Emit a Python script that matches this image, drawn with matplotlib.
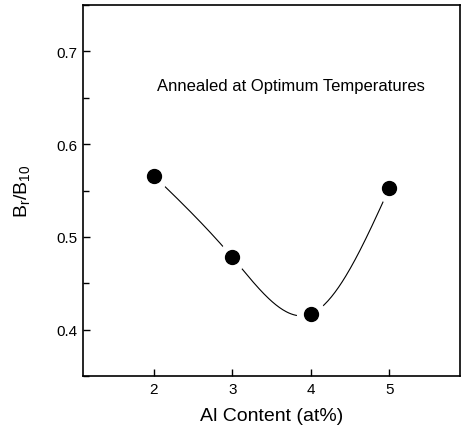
import numpy as np
import matplotlib
matplotlib.use("Agg")
import matplotlib.pyplot as plt
from matplotlib.ticker import MultipleLocator

plt.rcParams['font.family'] = ['Liberation Sans', 'DejaVu Sans']

# data
al_content = [2, 3, 4, 5]
br_b10 = [0.566, 0.478, 0.417, 0.553]
note = "Annealed at Optimum Temperatures"


def natural_spline(x, y, n=200):
    # smooth curve through the points (like the Origin spline connector)
    x = np.asarray(x, float)
    y = np.asarray(y, float)
    h = np.diff(x)
    m = len(x)
    A = np.zeros((m, m))
    b = np.zeros(m)
    A[0, 0] = A[-1, -1] = 1
    for i in range(1, m - 1):
        A[i, i - 1] = h[i - 1]
        A[i, i] = 2 * (h[i - 1] + h[i])
        A[i, i + 1] = h[i]
        b[i] = 6 * ((y[i + 1] - y[i]) / h[i] - (y[i] - y[i - 1]) / h[i - 1])
    M = np.linalg.solve(A, b)
    xs = np.linspace(x[0], x[-1], n)
    idx = np.clip(np.searchsorted(x, xs) - 1, 0, m - 2)
    x0, x1 = x[idx], x[idx + 1]
    hh = x1 - x0
    ys = (M[idx] * (x1 - xs) ** 3 / (6 * hh) + M[idx + 1] * (xs - x0) ** 3 / (6 * hh)
          + (y[idx] / hh - M[idx] * hh / 6) * (x1 - xs)
          + (y[idx + 1] / hh - M[idx + 1] * hh / 6) * (xs - x0))
    return xs, ys


fig = plt.figure(figsize=(4.62, 4.31), dpi=100)
ax = fig.add_axes([0.18, 0.125, 0.816, 0.861])

xs, ys = natural_spline(al_content, br_b10)
ax.plot(xs, ys, color='black', lw=0.8, zorder=2)
# white halo so the line stops short of each dot
ax.plot(al_content, br_b10, 'o', ms=20, color='white', zorder=3)
ax.plot(al_content, br_b10, 'o', ms=10, color='black', zorder=4)

ax.text(2.04, 0.663, note, fontsize=12, va='center', ha='left')

ax.set_xlim(1.1, 5.9)
ax.set_ylim(0.35, 0.75)
ax.yaxis.set_major_locator(MultipleLocator(0.1))
ax.yaxis.set_minor_locator(MultipleLocator(0.05))
ax.set_xticks([2, 3, 4, 5])
ax.tick_params(direction='in', length=5, width=1, labelsize=11, pad=4)
ax.tick_params(which='minor', direction='in', length=4, width=1)
for s in ax.spines.values():
    s.set_linewidth(1.2)

ax.set_xlabel("Al Content (at%)", fontsize=14, labelpad=8)
ax.set_ylabel(r"B$_\mathregular{r}$/B$_\mathregular{10}$", fontsize=14, labelpad=17)

fig.savefig("out.png", dpi=100)
